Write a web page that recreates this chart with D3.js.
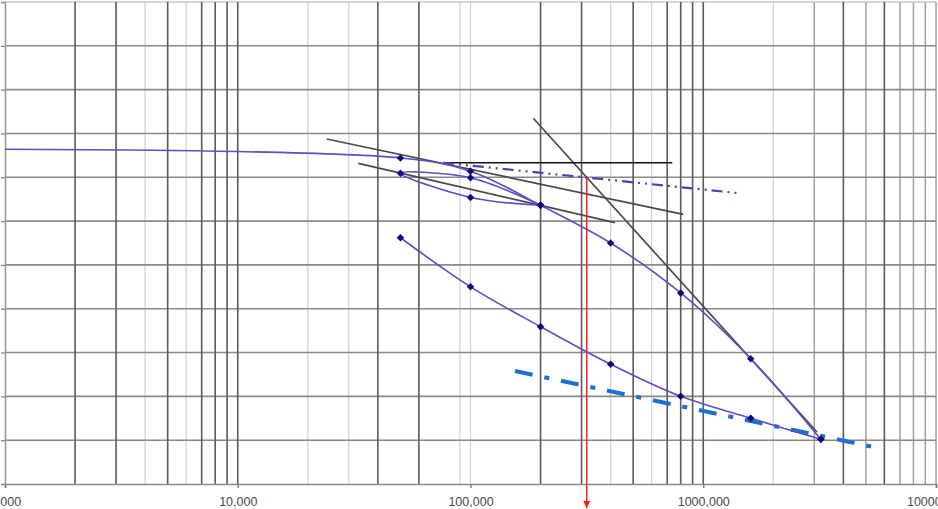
<!DOCTYPE html>
<html><head><meta charset="utf-8">
<script src="https://cdn.jsdelivr.net/npm/d3@7"></script>
<style>body{margin:0;background:#fff}svg{display:block;background:#fff}</style>
</head><body><svg id="c" width="938" height="509"></svg>
<script>
// ---- data ----
const xTickValues = [1000, 10000, 100000, 1000000, 10000000];
const xTickLabels = ["1,000", "10,000", "100,000", "1000,000", "10000,000"];
const yTickValues = [0.30, 0.35, 0.40, 0.45, 0.50, 0.55, 0.60, 0.65, 0.70, 0.75, 0.80, 0.85];
const gridDark = [2000, 3000, 5000, 7000, 8000, 9000, 10000, 40000, 60000, 200000, 300000, 500000, 700000, 800000, 900000, 1000000, 4000000, 6000000];
const gridMid = [3000000, 5000000, 7000000, 8000000, 9000000, 10000000];
const gridLight = [4000, 6000, 20000, 30000, 90000, 100000, 400000, 600000, 2000000];

// main sample: loading branch
const loadP = [1000, 50000, 100000, 200000, 400000, 800000, 1600000, 3200000];
const loadE = [0.682, 0.672, 0.657, 0.618, 0.575, 0.518, 0.443, 0.351];
// unload / reload loop
const loopP = [200000, 100000, 50000, 100000, 200000];
const loopE = [0.618, 0.627, 0.6545, 0.6495, 0.618];
// second sample
const lowP = [50000, 100000, 200000, 400000, 800000, 1600000, 3200000];
const lowE = [0.581, 0.525, 0.4795, 0.4366, 0.400, 0.375, 0.351];

// construction lines
const tangentP = [24110, 821000], tangentE = [0.6937, 0.6077];
const horizP = [76170, 736000], horizE = [0.6666, 0.6666];
const tangent2P = [32960, 417700], tangent2E = [0.6659, 0.5982];
const bisectP = [76170, 1438000], bisectE = [0.6666, 0.6317];
const virginP = [186100, 3081000], virginE = [0.7173, 0.3593];
const fieldP = [155300, 5561000], fieldE = [0.4289, 0.3414];
const precP = [315700, 315700], precE = [0.6488, 0.2726];

// ---- chart ----
const svg = d3.select("#c");
const x = d3.scaleLog().domain([1000, 10000000]).range([5, 936]);
const y = d3.scaleLinear().domain([0.30, 0.85]).range([484, 2]);
const zip = (P, E) => P.map((p, i) => [p, E[i]]);

const g = svg.append("g");
function vgrid(vals, color, w) {
  g.append("g").selectAll("line").data(vals).join("line")
    .attr("x1", d => x(d)).attr("x2", d => x(d))
    .attr("y1", y(0.85)).attr("y2", y(0.30))
    .attr("stroke", color).attr("stroke-width", w);
}
vgrid(gridLight, "#d4d4d4", 1.3);
vgrid(gridMid, "#a0a0a0", 1.5);
g.append("g").selectAll("line").data(yTickValues.slice(1)).join("line")
  .attr("x1", x(1000)).attr("x2", x(10000000))
  .attr("y1", d => y(d)).attr("y2", d => y(d))
  .attr("stroke", d => d === 0.85 ? "#c8c8c8" : "#8a8a8a").attr("stroke-width", 1.6);
vgrid(gridDark, "#5a5a5a", 1.6);

// axes
const xAxis = d3.axisBottom(x).tickValues(xTickValues)
  .tickFormat((d, i) => xTickLabels[i]).tickSize(4).tickPadding(9);
const ax = svg.append("g").attr("transform", `translate(0,${y(0.30)})`).call(xAxis);
ax.select(".domain").attr("stroke", "#8a8a8a").attr("stroke-width", 1.6);
ax.selectAll(".tick line").attr("stroke", "#777").attr("stroke-width", 1.3);
ax.selectAll("text").attr("font-family", "Liberation Sans, Arial, sans-serif")
  .attr("font-size", 12.5).attr("fill", "#4a4a4a");

const yAxis = d3.axisLeft(y).tickValues(yTickValues).tickFormat("").tickSize(4);
const ay = svg.append("g").attr("transform", `translate(${x(1000)},0)`).call(yAxis);
ay.select(".domain").attr("stroke", "#9a9a9a").attr("stroke-width", 1.6);
ay.selectAll(".tick line").attr("stroke", "#888").attr("stroke-width", 1.3);

// construction lines
const straight = d3.line().x(d => x(d[0])).y(d => y(d[1]));
function seg(P, E, color, w, dash) {
  svg.append("path").attr("d", straight(zip(P, E))).attr("fill", "none")
    .attr("stroke", color).attr("stroke-width", w)
    .attr("stroke-dasharray", dash || null);
}
seg(tangentP, tangentE, "#4a4a4a", 1.7);
seg(tangent2P, tangent2E, "#4a4a4a", 1.7);
seg(virginP, virginE, "#4a4a4a", 1.7);
seg(horizP, horizE, "#111", 1.3);
seg(bisectP, bisectE, "#4b40b5", 2.2, "11,5,2,5,2,5");
seg(fieldP, fieldE, "#1d6fd1", 4, "18,12,5,12");

// curves
const smooth = d3.line().x(d => x(d[0])).y(d => y(d[1])).curve(d3.curveCatmullRom.alpha(0.5));
const curveColor = "#5a4fc4";
[[loadP, loadE], [loopP, loopE], [lowP, lowE]].forEach(([P, E]) => {
  svg.append("path").attr("d", smooth(zip(P, E))).attr("fill", "none")
    .attr("stroke", curveColor).attr("stroke-width", 1.6);
});

// markers
const pts = zip(loadP, loadE).filter(d => d[0] >= 50000)
  .concat(zip(loopP, loopE), zip(lowP, lowE));
svg.append("g").selectAll("path").data(pts).join("path")
  .attr("transform", d => `translate(${x(d[0])},${y(d[1])})`)
  .attr("d", d3.symbol().type(d3.symbolDiamond2).size(36))
  .attr("fill", "#0b0b7e");

// red preconsolidation line with arrow
svg.append("defs").append("marker").attr("id", "arr")
  .attr("viewBox", "0 0 10 10").attr("refX", 10).attr("refY", 5)
  .attr("markerWidth", 7).attr("markerHeight", 7).attr("markerUnits", "userSpaceOnUse")
  .attr("orient", "auto")
  .append("path").attr("d", "M0,0L10,5L0,10Z").attr("fill", "#ff1a1a");
svg.append("path").attr("d", straight(zip(precP, precE)))
  .attr("stroke", "#ff2020").attr("stroke-width", 1.5).attr("fill", "none")
  .attr("marker-end", "url(#arr)");
</script>
</body></html>
